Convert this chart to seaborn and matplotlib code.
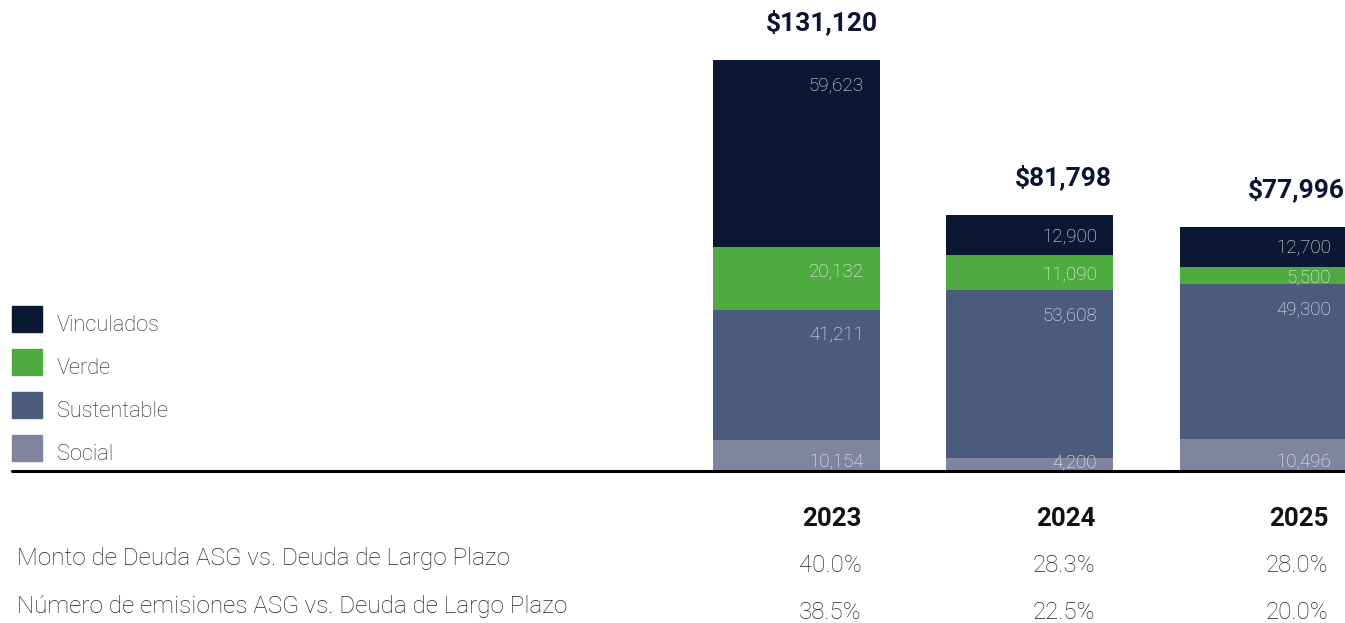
import numpy as np
import pandas as pd
import matplotlib.pyplot as plt
import matplotlib.transforms as mtransforms
from matplotlib.patches import Patch
import seaborn as sns

# ----------------------------------------------------------------
# Data
# ----------------------------------------------------------------
years = ['2023', '2024', '2025']
social = [10154, 4200, 10496]
sustentable = [41211, 53608, 49300]
verde = [20132, 11090, 5500]
vinculados = [59623, 12900, 12700]

monto_asg = ['40.0%', '28.3%', '28.0%']
emisiones_asg = ['38.5%', '22.5%', '20.0%']
row_labels = ['Monto de Deuda ASG vs. Deuda de Largo Plazo',
              'Número de emisiones ASG vs. Deuda de Largo Plazo']

series = ['Social', 'Sustentable', 'Verde', 'Vinculados']
colors = ['#80849f', '#4a5b7b', '#4faa41', '#0b1833']

sns.set_theme(style='white')
plt.rcParams['font.family'] = ['Roboto', 'DejaVu Sans']

df = pd.DataFrame({'year': years, 'Social': social, 'Sustentable': sustentable,
                   'Verde': verde, 'Vinculados': vinculados})
cum = df[series].cumsum(axis=1)
df['total'] = cum['Vinculados']

# ----------------------------------------------------------------
# Figure / axes
# ----------------------------------------------------------------
fig = plt.figure(figsize=(13.45, 6.23), dpi=100)
ax = fig.add_axes([0, 0.2432, 1, 0.7568])

# stacked bars: draw cumulative totals from the top series down
bar_w = 0.715
for s, c in reversed(list(zip(series, colors))):
    sns.barplot(x=df['year'], y=cum[s], color=c, width=bar_w, saturation=1,
                linewidth=0, errorbar=None, ax=ax)

ax.set_xlim(-3.41, 2.35)
ax.set_ylim(0, 150300)
ax.axis('off')

# baseline
ax.axhline(0, xmin=12 / 1345, xmax=1, color='black', lw=2.2, clip_on=False)

# segment labels
for i in range(len(years)):
    for j, s in enumerate(series):
        seg = df[s][i]
        top = cum[s][i]
        if j == 0:
            y = 3500
        else:
            y = top - min(seg / 2, 7350)
        ax.text(i + 0.289, y, f'{seg:,}', ha='right', va='center_baseline',
                fontsize=13.5, fontweight='light', color='#f2f4f7')

# totals above bars
for i, tot in enumerate(df['total']):
    ax.annotate(f'${tot:,}', xy=(i + 0.35, tot), xytext=(0, 21.6),
                textcoords='offset points', ha='right', va='baseline',
                fontsize=19, fontweight='bold', color='#0b1533')

# ----------------------------------------------------------------
# Table below the chart
# ----------------------------------------------------------------
trans = mtransforms.blended_transform_factory(ax.transData, fig.transFigure)
col_x = 0.28
for i, yr in enumerate(years):
    ax.text(i + col_x, (623 - 516) / 623, yr, transform=trans, ha='right',
            va='center_baseline', fontsize=18.6, fontweight='bold', color='#111111')
    ax.text(i + col_x, (623 - 563) / 623, monto_asg[i], transform=trans, ha='right',
            va='center_baseline', fontsize=17.3, fontweight='light', color='#222222')
    ax.text(i + col_x, (623 - 610) / 623, emisiones_asg[i], transform=trans, ha='right',
            va='center_baseline', fontsize=17.3, fontweight='light', color='#222222')

for k, lab in enumerate(row_labels):
    fig.text(17 / 1345, (623 - (556 + 48 * k)) / 623, lab, ha='left',
             va='center_baseline', fontsize=17.5, fontweight='light', color='#222222')

# legend
handles = [Patch(color=c, label=s) for s, c in zip(series, colors)][::-1]
leg = fig.legend(handles=handles, loc='upper left',
                 bbox_to_anchor=(12 / 1345, (623 - 306) / 623),
                 frameon=False, prop=dict(size=15.7, weight='light'),
                 handlelength=1.38, handleheight=1.46, labelspacing=0.78,
                 handletextpad=0.68, borderpad=0, borderaxespad=0,
                 labelcolor='#222222')
# labels sit a little lower than the swatch centres in the original
for t in leg.get_texts():
    t.set_transform(t.get_transform() + mtransforms.Affine2D().translate(0, -5))

fig.savefig('out.png', dpi=100)
